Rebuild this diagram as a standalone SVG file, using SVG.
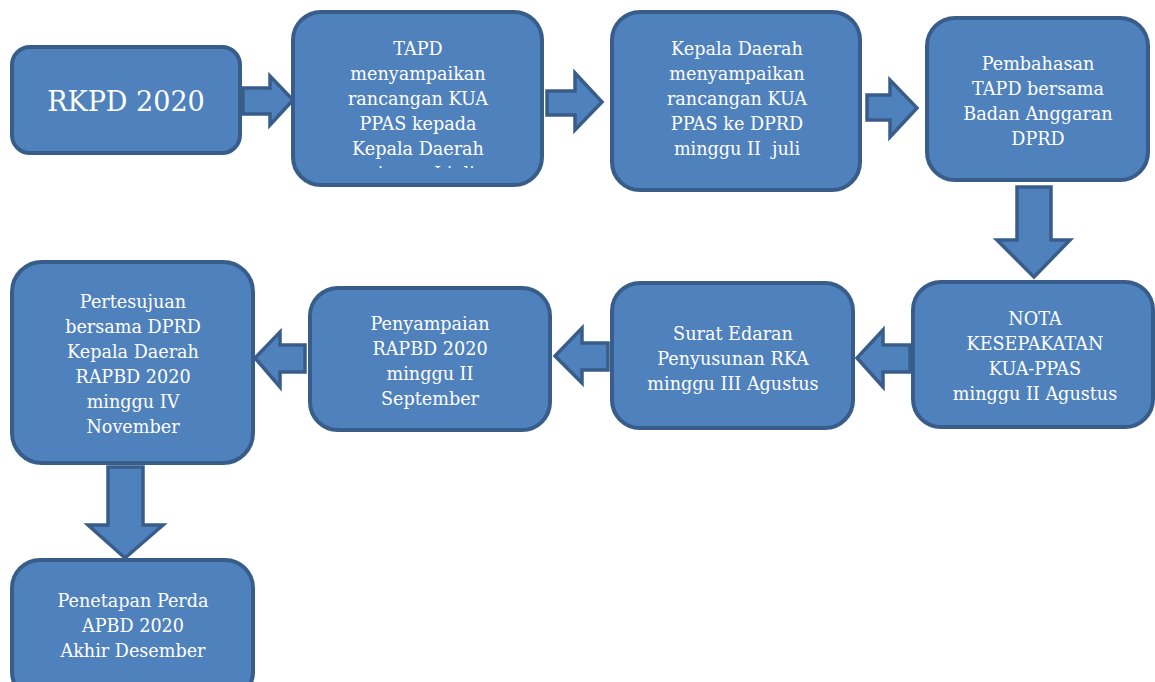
<svg xmlns="http://www.w3.org/2000/svg" width="1155" height="682" viewBox="0 0 1155 682">
<style>
.box{fill:#4f81bd;stroke:#385d8a;stroke-width:4}
.arr{fill:#4f81bd;stroke:#385d8a;stroke-width:3.5;stroke-linejoin:miter}
.t{font-family:"DejaVu Serif","Liberation Serif",serif;font-size:17.6px;fill:#ffffff;text-anchor:middle}
.big{font-size:27px}
</style>
<defs>
<clipPath id="c2"><rect x="295" y="14" width="245" height="154"/></clipPath>
</defs>
<rect width="1155" height="682" fill="#ffffff"/>
<g id="connectors">
<polygon class="arr" points="243,88 270,88 270,76 293,100 270,125 270,114 243,114"/>
<polygon class="arr" points="547,91 575,91 575,73 602,102 575,130 575,115 547,115"/>
<polygon class="arr" points="867,95 890,95 890,80 917,108 890,137 890,120 867,120"/>
<polygon class="arr" points="1017,187 1051,187 1051,240 1070,240 1034,277 997,240 1017,240"/>
<polygon class="arr" points="910,345 883,345 883,330 857,358 883,387 883,372 910,372"/>
<polygon class="arr" points="608,343 582,343 582,328 555,356 582,383 582,370 608,370"/>
<polygon class="arr" points="305,345 280,345 280,332 255,358 280,387 280,372 305,372"/>
<polygon class="arr" points="108,467 143,467 143,525 163,525 125,558 88,525 108,525"/>
</g>
<g id="n1">
<rect class="box" x="12" y="47" width="228" height="106" rx="18"/>
<text class="t big" x="126" y="111">RKPD 2020</text>
</g>
<g id="n2">
<rect class="box" x="293" y="12" width="249" height="173" rx="28"/>
<g clip-path="url(#c2)">
<text class="t" x="418" y="55">TAPD</text>
<text class="t" x="418" y="80">menyampaikan</text>
<text class="t" x="418" y="105">rancangan KUA</text>
<text class="t" x="418" y="130">PPAS kepada</text>
<text class="t" x="418" y="155">Kepala Daerah</text>
<text class="t" x="418" y="180">minggu I juli</text>
</g>
</g>
<g id="n3">
<rect class="box" x="612" y="12" width="248" height="178" rx="28"/>
<text class="t" x="737" y="55">Kepala Daerah</text>
<text class="t" x="737" y="80">menyampaikan</text>
<text class="t" x="737" y="105">rancangan KUA</text>
<text class="t" x="737" y="130">PPAS ke DPRD</text>
<text class="t" x="737" y="155" xml:space="preserve">minggu II  juli</text>
</g>
<g id="n4">
<rect class="box" x="927" y="18" width="221" height="162" rx="28"/>
<text class="t" x="1038" y="70">Pembahasan</text>
<text class="t" x="1038" y="95">TAPD bersama</text>
<text class="t" x="1038" y="120">Badan Anggaran</text>
<text class="t" x="1038" y="145">DPRD</text>
</g>
<g id="n5">
<rect class="box" x="913" y="282" width="240" height="145" rx="28"/>
<text class="t" x="1035" y="325">NOTA</text>
<text class="t" x="1035" y="350">KESEPAKATAN</text>
<text class="t" x="1035" y="375">KUA-PPAS</text>
<text class="t" x="1035" y="400">minggu II Agustus</text>
</g>
<g id="n6">
<rect class="box" x="612" y="283" width="241" height="145" rx="28"/>
<text class="t" x="733" y="340">Surat Edaran</text>
<text class="t" x="733" y="365">Penyusunan RKA</text>
<text class="t" x="733" y="390">minggu III Agustus</text>
</g>
<g id="n7">
<rect class="box" x="310" y="288" width="240" height="142" rx="28"/>
<text class="t" x="430" y="330">Penyampaian</text>
<text class="t" x="430" y="355">RAPBD 2020</text>
<text class="t" x="430" y="380">minggu II</text>
<text class="t" x="430" y="405">September</text>
</g>
<g id="n8">
<rect class="box" x="12" y="262" width="241" height="201" rx="30"/>
<text class="t" x="133" y="308">Pertesujuan</text>
<text class="t" x="133" y="333">bersama DPRD</text>
<text class="t" x="133" y="358">Kepala Daerah</text>
<text class="t" x="133" y="383">RAPBD 2020</text>
<text class="t" x="133" y="408">minggu IV</text>
<text class="t" x="133" y="433">November</text>
</g>
<g id="n9">
<rect class="box" x="12" y="560" width="241" height="140" rx="28"/>
<text class="t" x="133" y="607">Penetapan Perda</text>
<text class="t" x="133" y="632">APBD 2020</text>
<text class="t" x="133" y="657">Akhir Desember</text>
</g>
</svg>
